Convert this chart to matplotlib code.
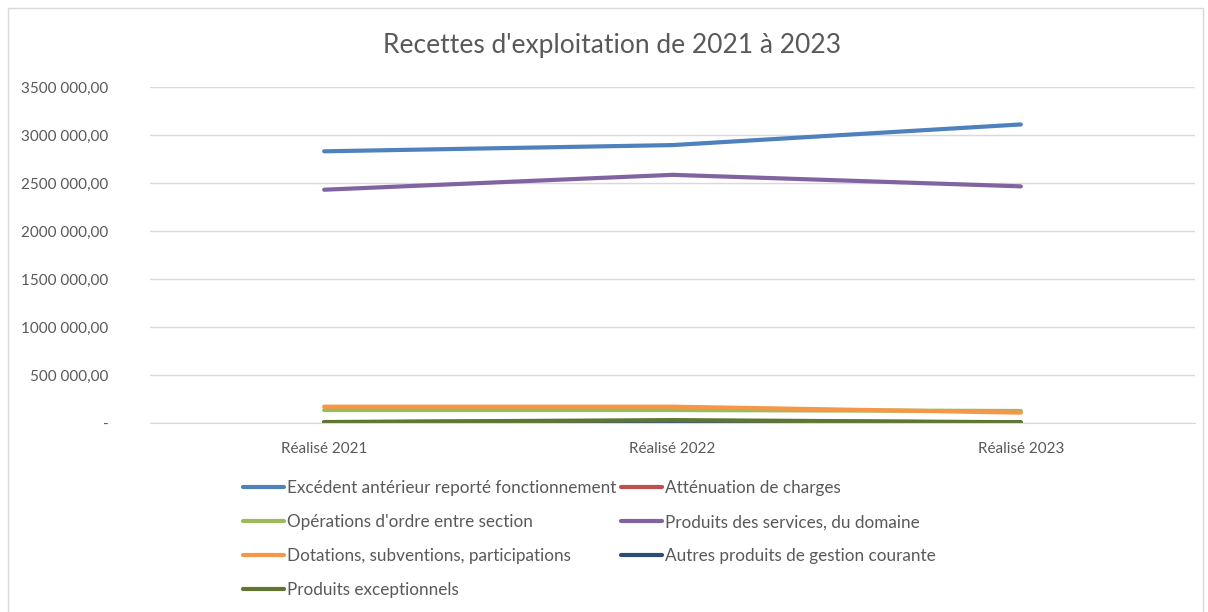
import matplotlib.pyplot as plt
from matplotlib.ticker import FuncFormatter
from matplotlib.patches import Rectangle

plt.rcParams['font.family'] = ['Lato', 'DejaVu Sans']

# catégories et recettes par poste (en euros)
annees = ['Réalisé 2021', 'Réalisé 2022', 'Réalisé 2023']
excedent = [2830000, 2895000, 3110000]
attenuation = [4000, 5000, 3000]
operations_ordre = [135000, 135000, 125000]
produits_services = [2430000, 2585000, 2465000]
dotations = [170000, 170000, 108000]
autres_produits = [8000, 20000, 6000]
produits_exceptionnels = [10000, 30000, 8000]

series = [
    ("Excédent antérieur reporté fonctionnement", excedent, '#4F81BD'),
    ("Atténuation de charges", attenuation, '#C0504D'),
    ("Opérations d'ordre entre section", operations_ordre, '#9BBB59'),
    ("Produits des services, du domaine", produits_services, '#8064A2'),
    ("Dotations, subventions, participations", dotations, '#F79646'),
    ("Autres produits de gestion courante", autres_produits, '#2C4D75'),
    ("Produits exceptionnels", produits_exceptionnels, '#5F7530'),
]

fig = plt.figure(figsize=(12.08, 6.12), dpi=100)
ax = fig.add_axes([150 / 1208, 1 - 423 / 612, 1045 / 1208, 336 / 612])

x = range(len(annees))
lignes = []
for nom, vals, couleur in series:
    l, = ax.plot(x, vals, color=couleur, linewidth=3, solid_capstyle='round', label=nom)
    lignes.append(l)

ax.set_xlim(-0.5, 2.5)
ax.set_ylim(0, 3500000)
ax.set_yticks(range(0, 3500001, 500000))
ax.set_xticks(list(x))
ax.set_xticklabels(annees)


def fmt_euros(v, pos):
    if v == 0:
        return '-'
    v = int(round(v))
    return f"{v // 1000} {v % 1000:03d},00"


ax.yaxis.set_major_formatter(FuncFormatter(fmt_euros))
ax.grid(axis='y', color='#d9d9d9', linewidth=1)
ax.set_axisbelow(True)
for cote in ['left', 'right', 'top']:
    ax.spines[cote].set_visible(False)
ax.spines['bottom'].set_color('#d9d9d9')
ax.tick_params(axis='both', length=0, colors='#595959', labelsize=11)
ax.tick_params(axis='y', pad=30)
ax.tick_params(axis='x', pad=14)

fig.text(0.507, 1 - 45 / 612, "Recettes d'exploitation de 2021 à 2023",
         ha='center', va='center', fontsize=19, color='#595959')

# légende en lignes : Excel remplit ligne par ligne
ordre = [0, 2, 4, 6, 1, 3, 5]
leg = fig.legend([lignes[i] for i in ordre], [series[i][0] for i in ordre],
                 ncol=2, loc='upper left', bbox_to_anchor=(228 / 1208, 1 - 465 / 612),
                 frameon=False, fontsize=12.3, labelcolor='#595959',
                 handlelength=2.35, handletextpad=0.2, columnspacing=0.3,
                 labelspacing=1.05)

fig.patches.append(Rectangle((8 / 1208, -0.01), 1195 / 1208, 1 - 8 / 612 + 0.01,
                             transform=fig.transFigure, fill=False,
                             edgecolor='#d9d9d9', linewidth=1))

fig.savefig('out.png', dpi=100)
